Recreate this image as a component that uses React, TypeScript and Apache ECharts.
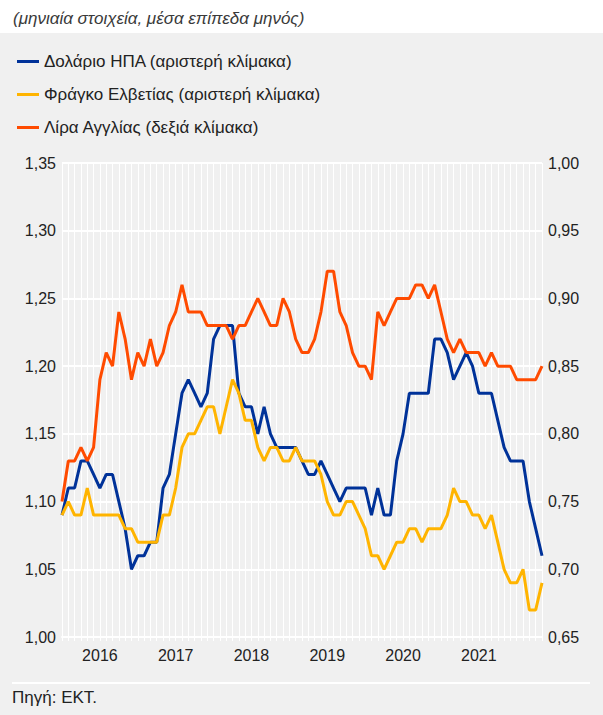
import React, { useEffect, useRef } from "react";
import * as echarts from "echarts";

const years = [2016, 2017, 2018, 2019, 2020, 2021, 2022];
const months = ["01", "02", "03", "04", "05", "06", "07", "08", "09", "10", "11", "12"];

// EUR/USD (left scale)
const usd = [
  1.09, 1.11, 1.11, 1.13, 1.13, 1.12, 1.11, 1.12, 1.12, 1.10, 1.08, 1.05,
  1.06, 1.06, 1.07, 1.07, 1.11, 1.12, 1.15, 1.18, 1.19, 1.18, 1.17, 1.18,
  1.22, 1.23, 1.23, 1.23, 1.18, 1.17, 1.17, 1.15, 1.17, 1.15, 1.14, 1.14,
  1.14, 1.14, 1.13, 1.12, 1.12, 1.13, 1.12, 1.11, 1.10, 1.11, 1.11, 1.11,
  1.11, 1.09, 1.11, 1.09, 1.09, 1.13, 1.15, 1.18, 1.18, 1.18, 1.18, 1.22,
  1.22, 1.21, 1.19, 1.20, 1.21, 1.20, 1.18, 1.18, 1.18, 1.16, 1.14, 1.13,
  1.13, 1.13, 1.10, 1.08, 1.06,
];

// EUR/CHF (left scale)
const chf = [
  1.09, 1.10, 1.09, 1.09, 1.11, 1.09, 1.09, 1.09, 1.09, 1.09, 1.08, 1.08,
  1.07, 1.07, 1.07, 1.07, 1.09, 1.09, 1.11, 1.14, 1.15, 1.15, 1.16, 1.17,
  1.17, 1.15, 1.17, 1.19, 1.18, 1.16, 1.16, 1.14, 1.13, 1.14, 1.14, 1.13,
  1.13, 1.14, 1.13, 1.13, 1.13, 1.12, 1.10, 1.09, 1.09, 1.10, 1.10, 1.09,
  1.08, 1.06, 1.06, 1.05, 1.06, 1.07, 1.07, 1.08, 1.08, 1.07, 1.08, 1.08,
  1.08, 1.09, 1.11, 1.10, 1.10, 1.09, 1.09, 1.08, 1.09, 1.07, 1.05, 1.04,
  1.04, 1.05, 1.02, 1.02, 1.04,
];

// EUR/GBP (right scale)
const gbp = [
  0.75, 0.78, 0.78, 0.79, 0.78, 0.79, 0.84, 0.86, 0.85, 0.89, 0.87, 0.84,
  0.86, 0.85, 0.87, 0.85, 0.86, 0.88, 0.89, 0.91, 0.89, 0.89, 0.89, 0.88,
  0.88, 0.88, 0.88, 0.87, 0.88, 0.88, 0.89, 0.90, 0.89, 0.88, 0.88, 0.90,
  0.89, 0.87, 0.86, 0.86, 0.87, 0.89, 0.92, 0.92, 0.89, 0.88, 0.86, 0.85,
  0.85, 0.84, 0.89, 0.88, 0.89, 0.90, 0.90, 0.90, 0.91, 0.91, 0.90, 0.91,
  0.89, 0.87, 0.86, 0.87, 0.86, 0.86, 0.86, 0.85, 0.86, 0.85, 0.85, 0.85,
  0.84, 0.84, 0.84, 0.84, 0.85,
];

const categories = years.flatMap((y) => months.map((m) => `${y}-${m}`)).slice(0, usd.length);

const seriesNames = [
  "Δολάριο ΗΠΑ (αριστερή κλίμακα)",
  "Φράγκο Ελβετίας (αριστερή κλίμακα)",
  "Λίρα Αγγλίας (δεξιά κλίμακα)",
];
const colors = ["#003299", "#FFB400", "#FF4B00"];
const titleText = "(μηνιαία στοιχεία, μέσα επίπεδα μηνός)";
const sourceText = "Πηγή: ΕΚΤ.";

const FONT = "'Liberation Sans', Arial, Helvetica, sans-serif";
const fmt = (v: number) => v.toFixed(2).replace(".", ",");

export default function App() {
  const ref = useRef<HTMLDivElement>(null);

  useEffect(() => {
    if (!ref.current) return;
    const chart = echarts.init(ref.current, undefined, { renderer: "svg" });
    chart.setOption({
      animation: false,
      backgroundColor: "transparent",
      textStyle: { fontFamily: FONT },
      title: {
        text: titleText,
        left: 8,
        top: 5,
        textStyle: {
          fontFamily: FONT,
          fontStyle: "italic",
          fontWeight: "normal",
          fontSize: 17,
          color: "#3a3a3a",
        },
      },
      legend: {
        orient: "vertical",
        left: 12,
        top: 48,
        icon: "rect",
        itemWidth: 22,
        itemHeight: 3,
        itemGap: 16,
        data: seriesNames,
        textStyle: { fontFamily: FONT, fontSize: 17, color: "#222" },
      },
      grid: { left: 62, right: 61, top: 163, bottom: 78, containLabel: false },
      xAxis: {
        type: "category",
        data: categories,
        boundaryGap: false,
        axisLine: { show: true, lineStyle: { color: "#ffffff", width: 2 } },
        axisTick: { show: true, interval: 0, length: 4, lineStyle: { color: "#ffffff", width: 1 } },
        splitLine: { show: true, interval: 0, lineStyle: { color: "#ffffff", width: 1 } },
        axisLabel: {
          interval: (i: number) => i % 12 === 6,
          formatter: (v: string) => v.slice(0, 4),
          color: "#222",
          fontSize: 16,
          fontFamily: FONT,
          margin: 10,
        },
      },
      yAxis: [
        {
          type: "value",
          min: 1.0,
          max: 1.35,
          interval: 0.05,
          axisLine: { show: false },
          axisTick: { show: false },
          splitLine: { show: true, lineStyle: { color: "#ffffff", width: 2 } },
          axisLabel: { formatter: fmt, color: "#222", fontSize: 16, fontFamily: FONT, margin: 6 },
        },
        {
          type: "value",
          min: 0.65,
          max: 1.0,
          interval: 0.05,
          axisLine: { show: false },
          axisTick: { show: false },
          splitLine: { show: false },
          axisLabel: { formatter: fmt, color: "#222", fontSize: 16, fontFamily: FONT, margin: 6 },
        },
      ],
      graphic: [
        {
          type: "line",
          shape: { x1: 12, y1: 683, x2: 590, y2: 683 },
          style: { stroke: "#ffffff", lineWidth: 2 },
        },
        {
          type: "text",
          x: 12,
          y: 689,
          style: { text: sourceText, fontSize: 17, fontFamily: FONT, fill: "#222" },
        },
      ],
      series: [
        { name: seriesNames[0], type: "line", data: usd, yAxisIndex: 0, showSymbol: false, lineStyle: { width: 3, color: colors[0] }, itemStyle: { color: colors[0] } },
        { name: seriesNames[1], type: "line", data: chf, yAxisIndex: 0, showSymbol: false, lineStyle: { width: 3, color: colors[1] }, itemStyle: { color: colors[1] } },
        { name: seriesNames[2], type: "line", data: gbp, yAxisIndex: 1, showSymbol: false, lineStyle: { width: 3, color: colors[2] }, itemStyle: { color: colors[2] } },
      ],
    });
    return () => chart.dispose();
  }, []);

  return (
    <div
      style={{
        position: "fixed",
        left: 0,
        top: 0,
        width: 603,
        height: 715,
        background: "linear-gradient(#ffffff 0px, #ffffff 33px, #f0f0f0 33px, #f0f0f0 100%)",
      }}
    >
      <div ref={ref} style={{ width: 603, height: 715 }} />
    </div>
  );
}
